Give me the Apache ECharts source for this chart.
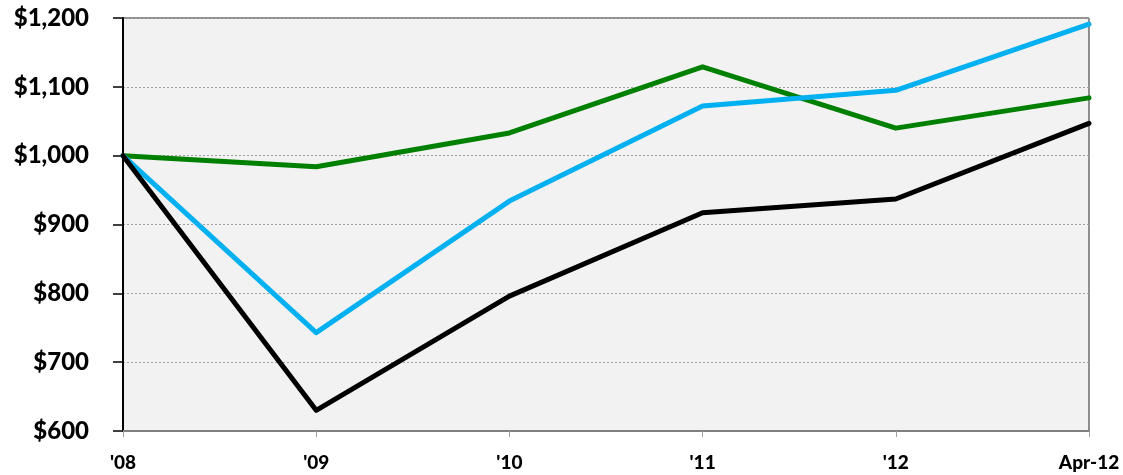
<!DOCTYPE html>
<html><head><meta charset="utf-8">
<script src="https://cdn.jsdelivr.net/npm/echarts@6/dist/echarts.min.js"></script>
<style>html,body{margin:0;padding:0;background:#fff}#c{width:1123px;height:475px}</style>
</head><body><div id="c"></div>
<script>
const categories = ["'08", "'09", "'10", "'11", "'12", "Apr-12"];
const blackSeries = [1000, 630, 796, 917, 937, 1047];
const blueSeries = [1000, 743, 934, 1072, 1095, 1191];
const greenSeries = [1000, 984, 1033, 1129, 1040, 1084];
const yMin = 600, yMax = 1200, yStep = 100;

const chart = echarts.init(document.getElementById('c'));
const lineBase = (name, data, color) => ({
  name, type: 'line', data, symbol: 'none', smooth: false,
  lineStyle: { color, width: 5, cap: 'round', join: 'round' }, z: 3
});
chart.setOption({
  animation: false,
  grid: { left: 123, right: 34, top: 18, bottom: 44, show: true,
    backgroundColor: '#f2f2f2', borderColor: '#262626', borderWidth: 1 },
  xAxis: {
    type: 'category', data: categories, boundaryGap: false,
    axisLine: { lineStyle: { color: '#808080', width: 2 } },
    axisTick: { show: true, length: 6, lineStyle: { color: '#a0a0a0', width: 1 } },
    axisLabel: { color: '#000', fontFamily: 'Lato', fontWeight: 900, fontSize: 19, margin: 22 },
    splitLine: { show: false }
  },
  yAxis: {
    type: 'value', min: yMin, max: yMax, interval: yStep,
    axisLine: { show: true, lineStyle: { color: '#000', width: 2 } },
    axisTick: { show: true, length: 10, lineStyle: { color: '#000', width: 1.5 } },
    axisLabel: { color: '#000', fontFamily: 'Lato', fontWeight: 900, fontSize: 24, margin: 34,
      formatter: v => '$' + v.toLocaleString('en-US') },
    splitLine: { show: true, lineStyle: { color: '#a0a0a0', type: [2, 2], width: 1 } }
  },
  series: [
    lineBase('Green', greenSeries, '#008000'),
    lineBase('Blue', blueSeries, '#00b0f0'),
    lineBase('Black', blackSeries, '#000000')
  ]
});
</script></body></html>
